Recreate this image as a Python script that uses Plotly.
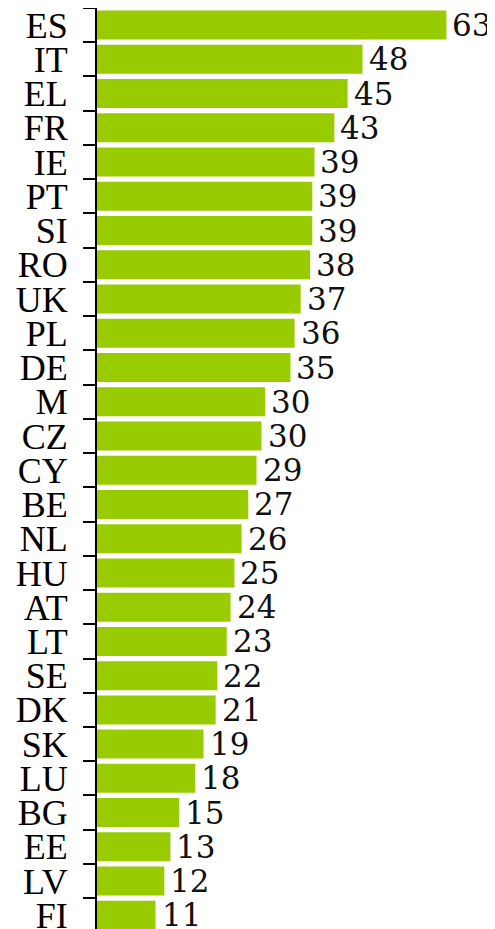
import plotly.graph_objects as go

countries = ["ES", "IT", "EL", "FR", "IE", "PT", "SI", "RO", "UK", "PL", "DE", "M", "CZ",
             "CY", "BE", "NL", "HU", "AT", "LT", "SE", "DK", "SK", "LU", "BG", "EE", "LV", "FI"]
shares = [63.3, 48.1, 45.4, 43.0, 39.4, 39.0, 39.0, 38.6, 36.9, 35.8, 35.05, 30.45, 29.8,
          28.9, 27.4, 26.2, 24.9, 24.2, 23.5, 21.8, 21.5, 19.3, 17.8, 14.9, 13.3, 12.2, 10.6]
labels = ["63", "48", "45", "43", "39", "39", "39", "38", "37", "36", "35", "30", "30",
          "29", "27", "26", "25", "24", "23", "22", "21", "19", "18", "15", "13", "12", "11"]

GREEN = "#99cc00"

fig = go.Figure(
    go.Bar(
        x=shares,
        y=countries,
        orientation="h",
        marker=dict(color=GREEN, line=dict(width=0)),
        hoverinfo="skip",
    )
)

# value labels to the right of each bar
for c, v, t in zip(countries, shares, labels):
    fig.add_annotation(
        x=v, y=c, text=t, showarrow=False,
        xanchor="left", yanchor="middle", xshift=4,
        font=dict(family="DejaVu Serif", size=31, color="#111111"),
    )

fig.update_layout(
    width=487,
    height=921,
    margin=dict(l=89, r=0, t=0, b=0),
    paper_bgcolor="white",
    plot_bgcolor="white",
    bargap=0.153,
    showlegend=False,
)
fig.update_xaxes(range=[0, 398 / 5.52], visible=False, showgrid=False,
                 zeroline=False, automargin=False)
fig.update_yaxes(
    type="category",
    categoryorder="array",
    categoryarray=countries,
    range=[26.4, -0.5],
    dtick=1,
    automargin=False,
    showline=True,
    linecolor="black",
    linewidth=2,
    ticks="outside",
    tickson="boundaries",
    ticklen=12,
    tickwidth=2,
    tickcolor="black",
    ticklabelstandoff=20,
    showgrid=False,
    zeroline=False,
    tickfont=dict(family="Liberation Serif", size=36, color="black"),
)

fig.write_html("out.html")
